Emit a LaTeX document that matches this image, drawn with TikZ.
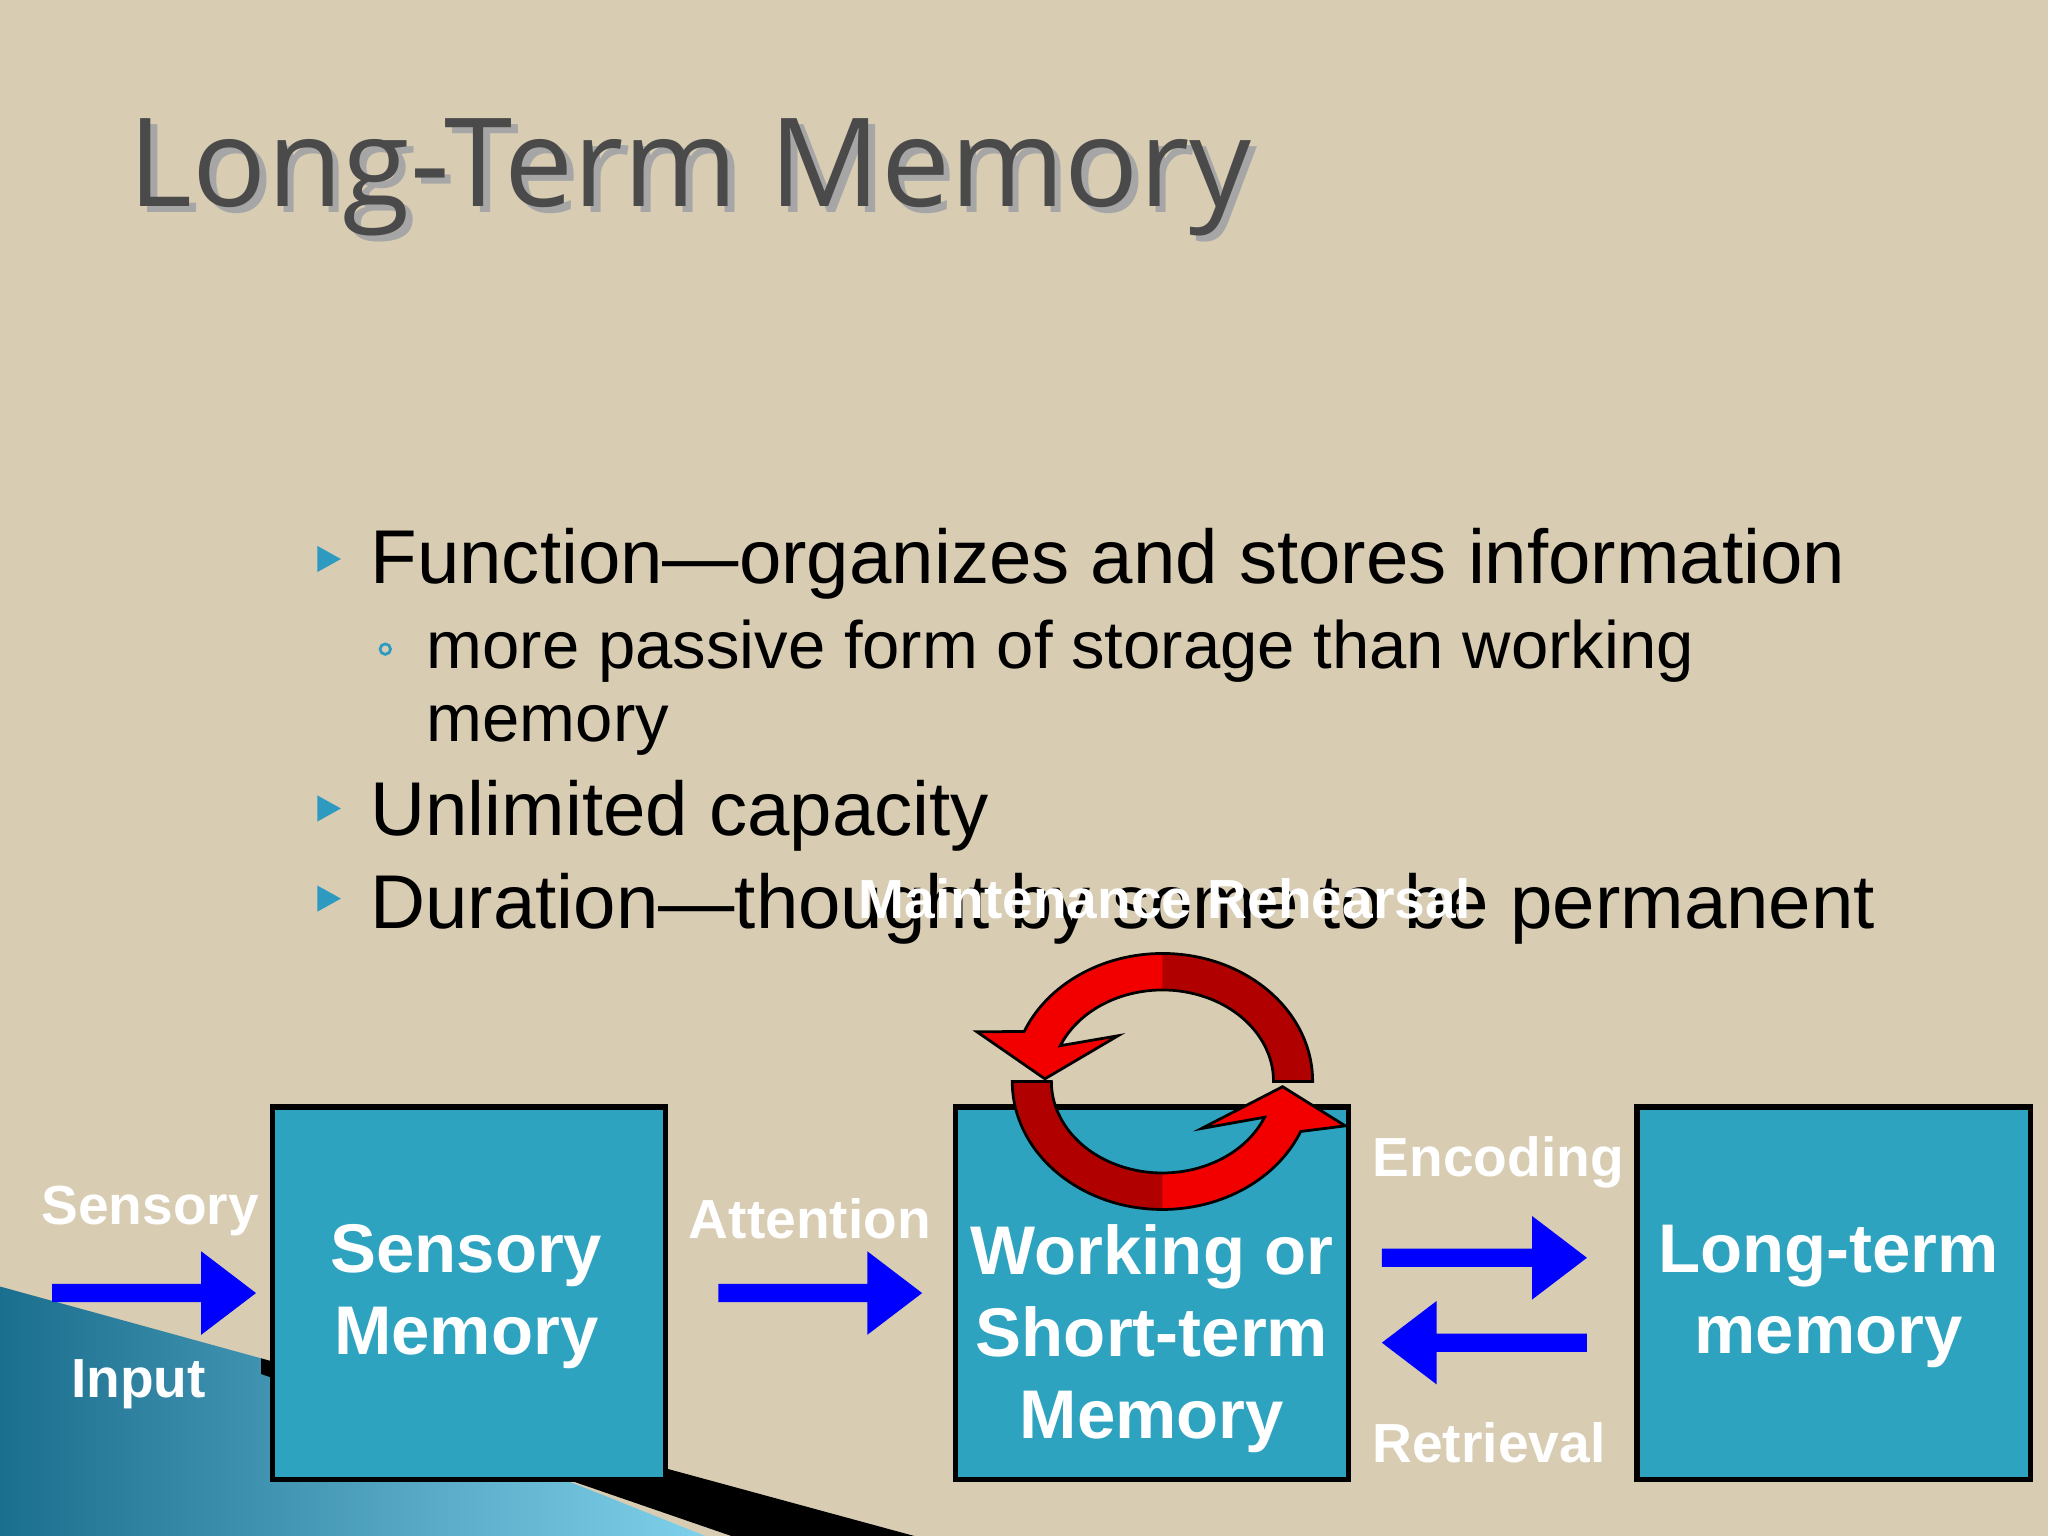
\documentclass[tikz,border=0pt]{standalone}
\usepackage{fontspec}
\setmainfont{Liberation Sans}
\newfontfamily\titlefont{Open Sans}
\usetikzlibrary{calc}
\definecolor{bg}{HTML}{D8CCB3}
\definecolor{boxc}{HTML}{2EA3C0}
\definecolor{bul}{HTML}{2E9AC0}
\definecolor{brightred}{HTML}{F20000}
\definecolor{darkred}{HTML}{B00000}
\definecolor{ttl}{HTML}{4A4A4A}
\definecolor{wedgeL}{HTML}{1B6F8E}
\definecolor{wedgeR}{HTML}{7FD0EA}
\tikzset{
  membox/.style={draw=black,line width=1.2pt,fill=boxc,minimum width=85.6pt,minimum height=81.1pt,inner sep=0},
  boxtxt/.style={text=white,font=\fontsize{15}{17.8}\selectfont\bfseries,align=center,inner sep=0,anchor=north},
  lbl/.style={text=white,font=\fontsize{12}{14}\selectfont\bfseries},
  bigarrow/.style={fill=blue,draw=none},
  btxt/.style={anchor=base west,font=\fontsize{16.6}{18}\selectfont,text=black,inner sep=0},
  stxt/.style={anchor=base west,font=\fontsize{14.6}{16}\selectfont,text=black,inner sep=0},
}
\newcommand{\bultri}[1]{\fill[bul] (#1)++(-8,-10) -- ++(18,10) -- ++(-18,10) -- cycle;}
\newcommand{\harrow}[3]{% y, xstart, xend
  \fill[bigarrow] let \n1={#3>#2?1:-1} in
   (#2,#1-7) -- (#3-\n1*42,#1-7) -- (#3-\n1*42,#1-32) -- (#3,#1) -- (#3-\n1*42,#1+32) -- (#3-\n1*42,#1+7) -- (#2,#1+7) -- cycle;}
\begin{document}
\begin{tikzpicture}[x=0.01cm,y=-0.01cm]
\useasboundingbox (0,0) rectangle (1568,1176);
\fill[bg] (0,0) rectangle (1568,1176);
% bottom-left decoration
\shade[left color=wedgeL,right color=wedgeR] (0,985) -- (200,1040) -- (540,1176) -- (0,1176) -- cycle;
\fill[black] (200,1040) -- (700,1176) -- (560,1176) -- (200,1052) -- cycle;
% title
\node[anchor=base west,text=black!35,font=\titlefont\fontsize{26.8}{30}\selectfont,inner sep=0] at (103,163) {Long-Term Memory};
\node[anchor=base west,text=ttl,font=\titlefont\fontsize{26.8}{30}\selectfont,inner sep=0] (title) at (98,158) {Long-Term Memory};
% bullets
\bultri{251,428}
\node[btxt] (b1) at (283,447) {Function—organizes and stores information};
\draw[bul,line width=0.6pt] (295,497) circle (4);
\node[stxt] (b2) at (326,512) {more passive form of storage than working};
\node[stxt] (b3) at (326,568) {memory};
\bultri{251,619}
\node[btxt] (b4) at (283,640) {Unlimited capacity};
\bultri{251,688}
\node[btxt] (b5) at (283,711) {Duration—thought by some to be permanent};
% boxes
\node[membox] (sm) at (359,990) {};
\node[membox] (wm) at (882,990) {};
\node[membox] (lm) at (1404,990) {};
\node[boxtxt] (smt) at (357,937) {Sensory\\Memory};
\node[boxtxt] (wmt) at (882,937) {Working or\\Short-term\\Memory};
\node[boxtxt] (lmt) at (1400,937) {Long-term\\memory};
% arrows
\harrow{990}{40}{196}
\harrow{990}{550}{706}
\harrow{963}{1058}{1215}
\harrow{1028}{1215}{1058}
% labels
\node[lbl] at (115,927) {Sensory};
\node[lbl] at (106,1060) {Input};
\node[lbl] at (620,933) {Attention};
\node[lbl] at (1147,890) {Encoding};
\node[lbl] at (1140,1105) {Retrieval};
% rehearsal arrows
\def\upper{(1005,828) arc[start angle=0,end angle=-157,x radius=115,y radius=98] -- (748,790) -- (800,826) -- (856,793) -- (811.8,800.6) arc[start angle=-157,end angle=0,x radius=85,y radius=70] -- cycle}
\def\lower{(775,828) arc[start angle=180,end angle=23,x radius=115,y radius=98] -- (1030,862) -- (982,832) -- (920,864) -- (968.2,855.4) arc[start angle=23,end angle=180,x radius=85,y radius=70] -- cycle}
\fill[brightred] \upper;
\begin{scope}\clip (890,600) rectangle (1100,900); \fill[darkred] \upper; \end{scope}
\draw[black,line width=0.6pt] \upper;
\fill[brightred] \lower;
\begin{scope}\clip (700,700) rectangle (890,1000); \fill[darkred] \lower; \end{scope}
\draw[black,line width=0.6pt] \lower;
\node[lbl] at (892,688) {Maintenance Rehearsal};
\end{tikzpicture}
\end{document}
